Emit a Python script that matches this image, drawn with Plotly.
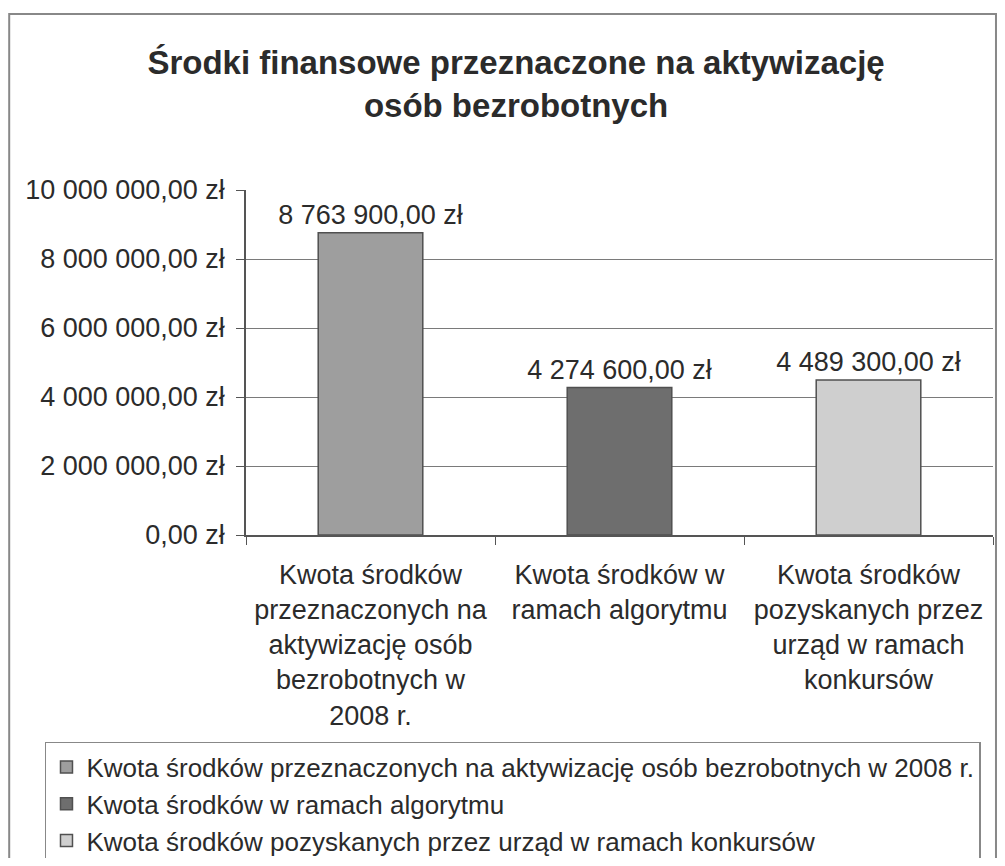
import plotly.graph_objects as go

categories = [
    "Kwota środków przeznaczonych na aktywizację osób bezrobotnych w 2008 r.",
    "Kwota środków w ramach algorytmu",
    "Kwota środków pozyskanych przez urząd w ramach konkursów",
]
tick_labels = [
    "Kwota środków<br>przeznaczonych na<br>aktywizację osób<br>bezrobotnych w<br>2008 r.",
    "Kwota środków w<br>ramach algorytmu",
    "Kwota środków<br>pozyskanych przez<br>urząd w ramach<br>konkursów",
]
values = [8763900.00, 4274600.00, 4489300.00]
y_ticks = [0, 2000000, 4000000, 6000000, 8000000, 10000000]
y_tick_labels = ["0,00 zł", "2 000 000,00 zł", "4 000 000,00 zł",
                 "6 000 000,00 zł", "8 000 000,00 zł", "10 000 000,00 zł"]
bar_colors = ["#9e9e9e", "#6e6e6e", "#cfcfcf"]

FONT = "Liberation Sans, Arial, sans-serif"
TXT = "#2b2b2b"

fig = go.Figure()
for cat, val, col in zip(categories, values, bar_colors):
    fig.add_trace(go.Bar(
        x=[cat], y=[val], name=cat,
        marker=dict(color=col, line=dict(color="#505050", width=1.5)),
        width=0.42,
        texttemplate="%{y:,.2f} zł", textposition="outside",
        constraintext="none",
        textfont=dict(family=FONT, size=27, color=TXT),
        cliponaxis=False,
    ))

fig.update_layout(
    width=989, height=850,
    paper_bgcolor="white", plot_bgcolor="white",
    separators=", ",
    barmode="overlay",
    margin=dict(l=238, r=4, t=182, b=323, autoexpand=False),
    font=dict(family=FONT, size=27, color=TXT),
    title=dict(
        text="Środki finansowe przeznaczone na aktywizację<br>osób bezrobotnych",
        font=dict(family=FONT, size=33, color=TXT, weight="bold"),
        x=0.5137, xref="container", xanchor="center",
        y=0.922, yref="container", yanchor="top",
    ),
    xaxis=dict(
        type="category", automargin=False,
        tickvals=categories, ticktext=tick_labels,
        tickson="boundaries", ticks="outside", ticklen=8, tickcolor="#555",
        showline=True, linecolor="#555", linewidth=1.5,
        showgrid=False, range=[-0.5, 2.5],
        tickfont=dict(family=FONT, size=27, color=TXT),
        ticklabelstandoff=15,
    ),
    yaxis=dict(
        range=[0, 10000000], automargin=False,
        tickvals=y_ticks, ticktext=y_tick_labels,
        ticks="outside", ticklen=8, tickcolor="#555",
        showline=True, linecolor="#555", linewidth=1.5,
        showgrid=True, gridcolor="#7a7a7a", gridwidth=1.2,
        zeroline=False,
        tickfont=dict(family=FONT, size=27, color=TXT),
        ticklabelstandoff=6,
    ),
    showlegend=True,
    legend=dict(
        x=0.0374, xref="container", xanchor="left",
        y=0.1365, yref="container", yanchor="top",
        bordercolor="#888", borderwidth=1.5, bgcolor="white",
        font=dict(family=FONT, size=26, color=TXT),
        tracegroupgap=0, itemwidth=30,
    ),
    shapes=[dict(
        type="rect", xref="paper", yref="paper",
        x0=-0.317, x1=1.004, y0=-0.99, y1=1.51,
        line=dict(color="#888", width=2), fillcolor="rgba(0,0,0,0)",
        layer="below",
    )],
)

fig.write_html("out.html")
